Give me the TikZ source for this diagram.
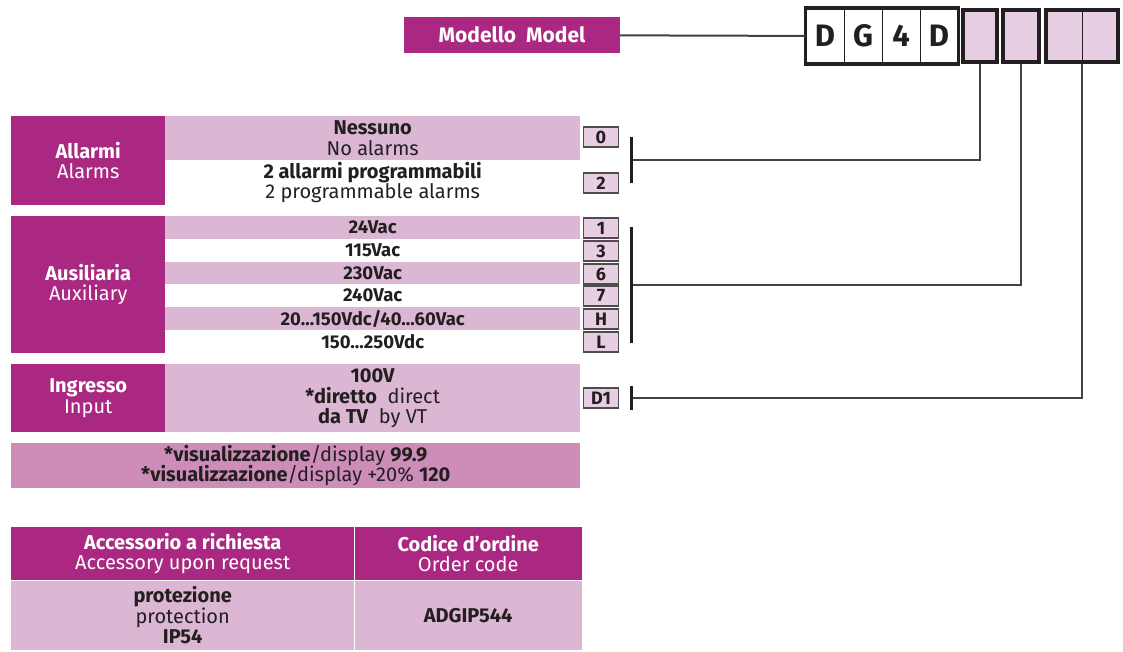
\documentclass[tikz,border=0pt]{standalone}
\usepackage{fontspec}
\setmainfont{Fira Sans}
\usetikzlibrary{positioning}
\definecolor{plum}{RGB}{170,40,130}
\definecolor{rowpink}{RGB}{220,183,212}
\definecolor{cellpink}{RGB}{231,206,226}
\definecolor{bandpink}{RGB}{205,141,184}
\definecolor{ink}{RGB}{35,31,32}

\begin{document}
\begin{tikzpicture}[x=1pt, y=-1pt,
  head/.style  = {fill=plum, text=white, anchor=north west, inner sep=0pt,
                  minimum width=154pt, align=center, font=\fontsize{20}{20.5}\selectfont},
  row/.style   = {anchor=north west, inner sep=0pt, minimum width=415pt,
                  align=center, text=ink, font=\fontsize{20}{20.5}\selectfont},
  code/.style  = {draw=ink!80, line width=1.2pt, fill=cellpink, minimum width=35pt,
                  minimum height=20pt, inner sep=0pt, text=ink,
                  font=\bfseries\fontsize{18}{18}\selectfont},
  bus/.style   = {fill=ink, minimum width=3pt, inner sep=0pt},
  wire/.style  = {draw=ink!85, line width=1.3pt},
  digit/.style = {draw=ink, line width=0.8pt, minimum width=38pt, minimum height=55pt,
                  inner sep=0pt, text=ink, font=\bfseries\fontsize{31}{31}\selectfont},
  slot/.style  = {draw=ink, line width=3.5pt, fill=cellpink, minimum height=52pt, inner sep=0pt},
]
\useasboundingbox (0,0) rectangle (1123,652);

% model code
\node[fill=plum, text=white, minimum width=216pt, minimum height=36pt, inner sep=0pt,
      font=\bfseries\fontsize{21}{21}\selectfont] (model) at (512,35) {Modello\ \ Model};
\node[digit] (d1) at (825,36) {D};
\node[digit] (d2) at (863,36) {G};
\node[digit] (d3) at (901,36) {4};
\node[digit] (d4) at (939,36) {D};
\draw[ink, line width=3.5pt] (d1.north west) rectangle (d4.south east);
\node[slot, minimum width=34pt] (s1) at (980,36) {};
\node[slot, minimum width=36pt] (s2) at (1021,36) {};
\node[slot, minimum width=72pt] (s3) at (1082,36) {};
\draw[ink, line width=1pt] (s3.north) -- (s3.south);
\draw[wire, line width=2pt] (model) -- (d1);

% alarms
\node[head, minimum height=89pt] (alm) at (11,116) {\textbf{Allarmi}\\Alarms};
\node[row, fill=rowpink, minimum height=44pt] (alm0) at (165,116) {\textbf{Nessuno}\\No alarms};
\node[row, minimum height=45pt] (alm2) at (165,160) {\textbf{2 allarmi programmabili}\\2 programmable alarms};
\node[code] (c0) at (601,137) {0};
\node[code] (c2) at (601,183) {2};
\node[bus, minimum height=46pt] (almbus) at (631,160) {};

% auxiliary supply
\node[head, minimum height=137pt] (aux) at (11,216) {\textbf{Ausiliaria}\\Auxiliary};
\foreach \y/\txt/\fl [count=\i] in {216/24Vac/rowpink, 239/115Vac/white, 262/230Vac/rowpink,
                                   284/240Vac/white, 307/{20\ldots150Vdc/40\ldots60Vac}/rowpink,
                                   330/150\ldots250Vdc/white}
  \node[row, fill=\fl, minimum height=23pt, font=\bfseries\fontsize{18.5}{19}\selectfont]
    (aux\i) at (165,\y) {\txt};
\foreach \y/\c [count=\i] in {228/1, 251/3, 274/6, 296/7, 319/H, 342/L}
  \node[code] (ac\i) at (601,\y) {\c};
\node[bus, minimum height=115pt] (auxbus) at (631,285) {};

% input
\node[head, minimum height=68pt] (inp) at (11,364) {\textbf{Ingresso}\\Input};
\node[row, fill=rowpink, minimum height=68pt] (inpv) at (165,364)
  {\textbf{100V}\\\textbf{*diretto}\ \ direct\\\textbf{da TV}\ \ by VT};
\node[code] (cd1) at (601,398) {D1};
\node[bus, minimum height=24pt] (inpbus) at (631,398) {};

% display note
\node[row, fill=bandpink, minimum width=569pt, minimum height=45pt] (disp) at (11,443)
  {\textbf{*visualizzazione}/display \textbf{99.9}\\\textbf{*visualizzazione}/display +20\% \textbf{120}};

% wires from code slots
\draw[wire] (s1.south) |- (almbus.east);
\draw[wire] (s2.south) |- (auxbus.east);
\draw[wire] (s3.south) |- (inpbus.east);

% accessory table
\node[head, minimum width=343pt, minimum height=53pt] (acch) at (11,527)
  {\textbf{Accessorio a richiesta}\\Accessory upon request};
\node[head, minimum width=228pt, minimum height=53pt] (codh) at (354,527)
  {\textbf{Codice d’ordine}\\Order code};
\node[row, fill=rowpink, minimum width=343pt, minimum height=70pt,
      font=\fontsize{20}{19.5}\selectfont] (accb) at (11,580)
  {\textbf{protezione}\\protection\\\textbf{IP54}};
\node[row, fill=rowpink, minimum width=228pt, minimum height=70pt] (codb) at (354,580)
  {\textbf{ADGIP544}};
\draw[white, line width=1pt] (acch.north east) -- (accb.south east);
\draw[white, line width=0.8pt] (acch.south west) -- (codh.south east);
\end{tikzpicture}
\end{document}
